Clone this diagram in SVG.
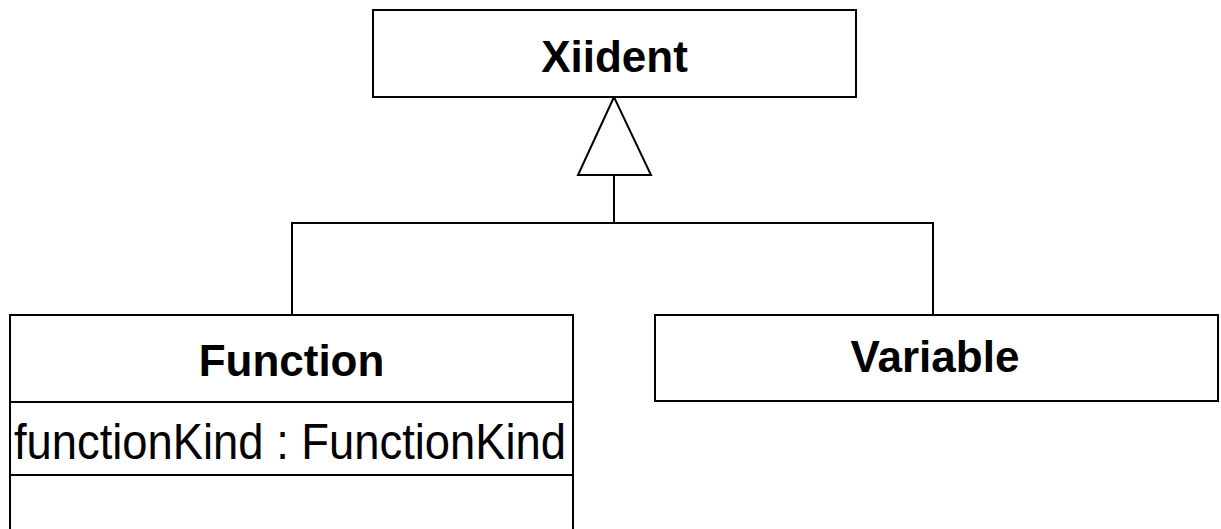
<svg xmlns="http://www.w3.org/2000/svg" width="1221" height="529" viewBox="0 0 1221 529">
  <style>
    .box { fill: #ffffff; stroke: #000000; stroke-width: 2; }
    .line { fill: none; stroke: #000000; stroke-width: 2; }
    .title { font-family: "Liberation Sans", Arial, sans-serif; font-weight: bold; font-size: 44px; text-anchor: middle; fill: #000000; }
    .attr { font-family: "Liberation Sans", Arial, sans-serif; font-size: 50px; fill: #000000; }
  </style>
  <rect x="0" y="0" width="1221" height="529" fill="#ffffff"/>

  <!-- generalization connectors -->
  <g id="connectors">
    <polyline class="line" points="292,315 292,223 933,223 933,315"/>
    <line class="line" x1="614" y1="175" x2="614" y2="223"/>
    <polygon class="box" points="614,97 578,175 651,175"/>
  </g>

  <!-- superclass -->
  <g id="node-xiident">
    <rect class="box" x="373" y="10" width="483" height="87"/>
    <text class="title" x="614.5" y="72">Xiident</text>
  </g>

  <!-- subclass with attribute and operation compartments -->
  <g id="node-function">
    <rect class="box" x="10" y="315" width="563" height="230"/>
    <line class="line" x1="10" y1="402" x2="573" y2="402"/>
    <line class="line" x1="10" y1="475" x2="573" y2="475"/>
    <text class="title" x="291.5" y="376">Function</text>
    <text class="attr" x="14" y="459" textLength="552" lengthAdjust="spacingAndGlyphs">functionKind : FunctionKind</text>
  </g>

  <!-- subclass -->
  <g id="node-variable">
    <rect class="box" x="655" y="315" width="563" height="86"/>
    <text class="title" x="935" y="372">Variable</text>
  </g>
</svg>
